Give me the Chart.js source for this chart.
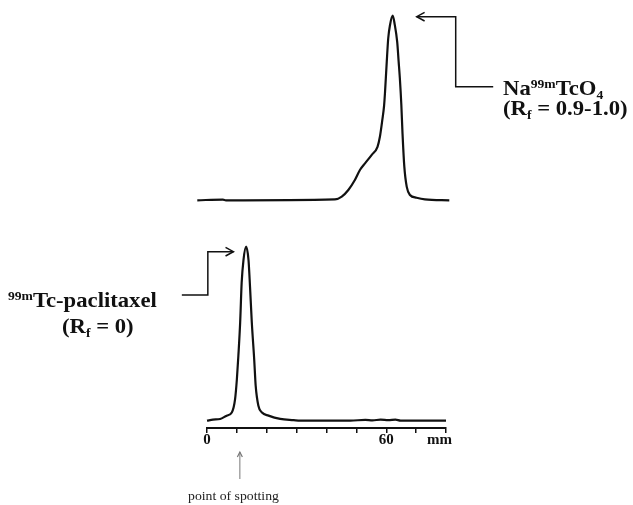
<!DOCTYPE html>
<html>
<head>
<meta charset="utf-8">
<script src="https://cdn.jsdelivr.net/npm/chart.js@4.4.1/dist/chart.umd.min.js"></script>
<style>
  html, body { margin: 0; padding: 0; background: #fff; }
  #wrap { position: relative; width: 633px; height: 505px; overflow: hidden; }
  canvas { position: absolute; left: 0; top: 0; }
  .lbl { position: absolute; font-family: "Liberation Serif", "Times New Roman", serif; font-weight: bold;
         color: #111; white-space: nowrap; transform-origin: 0 0; }
  .big { font-size: 21px; line-height: 21px; transform: scaleX(1.08); }
  .sup { font-size: 0.6em; position: relative; top: -0.55em; }
  .sub { font-size: 0.6em; position: relative; top: 0.3em; }
  .small { font-weight: normal; font-size: 12.5px; line-height: 12.5px; transform: scaleX(1.1); color: #222; }
  .unit { font-size: 15px; line-height: 15px; }
</style>
</head>
<body>
<div id="wrap">
  <canvas id="topScan" width="633" height="505"></canvas>
  <canvas id="botScan" width="633" height="505"></canvas>

  <div class="lbl big" style="left:503px; top:78px;">Na<span class="sup">99m</span>TcO<span class="sub">4</span></div>
  <div class="lbl big" style="left:503px; top:98px;">(R<span class="sub">f</span> = 0.9-1.0)</div>
  <div class="lbl big" style="left:8px; top:290px;"><span class="sup">99m</span>Tc-paclitaxel</div>
  <div class="lbl big" style="left:62px; top:316px;">(R<span class="sub">f</span> = 0)</div>
  <div class="lbl unit" style="left:427px; top:432px;">mm</div>
  <div class="lbl small" style="left:188px; top:490px;">point of spotting</div>
</div>

<script>
// --- upper scan: Na99mTcO4 (position in mm, counts scaled so peak = 100)
const topMm = [0, 8.6, 9.6, 46.2, 48.5, 50.7, 52.9, 54.6, 56.3, 58.5, 60.5, 61.3, 62.1, 62.7, 63.0,
               63.6, 64.1, 64.7, 65.6, 66.3, 67.1, 67.6, 68.0, 68.5, 68.9, 69.5, 70.3, 71.4, 73.6, 76.4, 84.6];
const topCounts = [0, 0.4, 0, 0.5, 2.0, 5.6, 11.0, 16.4, 20.0, 24.5, 29.0, 34.4, 43.4, 51.2, 58,
                   75, 87.8, 95, 100, 95, 85.9, 75, 66.1, 51.6, 36, 18.2, 7.4, 2.9, 1.4, 0.5, 0];

// --- lower scan: 99mTc-paclitaxel
const botMm = [0, 2.0, 4.4, 6.6, 8.3, 9.4, 10.0, 10.5, 11.1, 11.6, 12.2, 13.1, 13.9, 14.4, 15.0,
               15.8, 16.3, 17.2, 18.4, 20.6, 24.5, 29.0, 31.2, 48, 53.0, 55.4, 58.1, 60.7, 63.1, 64.8, 80];
const botCounts = [0, 0.6, 1.0, 2.9, 4.7, 12.4, 23.8, 37.3, 56.4, 79.2, 92.2, 100, 92.2, 77, 56.4,
                   35.2, 20, 8.6, 4.7, 2.9, 1.0, 0.3, 0, 0, 0.5, 0.2, 0.6, 0.3, 0.6, 0, 0];

// axis
const axisMax = 80;
const axisStep = 10;
const labelledTicks = [0, 60];
const spotMm = 11;

const INK = '#111';

function pts(xs, ys) {
  return xs.map((x, i) => ({ x, y: ys[i] }));
}

function arrowHead(ctx, x, y, dir) {
  // open chevron, dir = angle the arrow points to
  const len = 9, spread = 0.5;
  ctx.beginPath();
  ctx.moveTo(x - len * Math.cos(dir - spread), y - len * Math.sin(dir - spread));
  ctx.lineTo(x, y);
  ctx.lineTo(x - len * Math.cos(dir + spread), y - len * Math.sin(dir + spread));
  ctx.stroke();
}

// callout lines hang off the peak of each scan
const callouts = {
  id: 'callouts',
  afterDraw(c, args, opts) {
    const ctx = c.ctx;
    const xs = c.scales.x, ys = c.scales.y;
    const d = c.data.datasets[0].data;
    const peak = d.reduce((a, b) => (b.y > a.y ? b : a));
    const px = xs.getPixelForValue(peak.x);
    const py = ys.getPixelForValue(peak.y);
    ctx.save();
    ctx.strokeStyle = INK;
    ctx.lineWidth = 1.5;
    if (opts.side === 'right') {
      const tipX = px + 24, tipY = py + 1;
      ctx.beginPath();
      ctx.moveTo(tipX, tipY);
      ctx.lineTo(px + 63, tipY);
      ctx.lineTo(px + 63, py + 71);
      ctx.lineTo(px + 100.5, py + 71);
      ctx.stroke();
      arrowHead(ctx, tipX, tipY, Math.PI);
    } else {
      const tipX = px - 12.7, tipY = py + 5;
      ctx.beginPath();
      ctx.moveTo(px - 64.3, py + 48.3);
      ctx.lineTo(px - 38.3, py + 48.3);
      ctx.lineTo(px - 38.3, tipY);
      ctx.lineTo(tipX, tipY);
      ctx.stroke();
      arrowHead(ctx, tipX, tipY, 0);

      // point of spotting marker
      const sx = xs.getPixelForValue(spotMm);
      const base = c.chartArea.bottom;
      ctx.strokeStyle = '#777';
      ctx.lineWidth = 1;
      ctx.beginPath();
      ctx.moveTo(sx, base + 51);
      ctx.lineTo(sx, base + 24);
      ctx.stroke();
      ctx.lineWidth = 1.2;
      const hl = 5;
      ctx.beginPath();
      ctx.moveTo(sx - 2.5, base + 24 + hl);
      ctx.lineTo(sx, base + 24);
      ctx.lineTo(sx + 2.5, base + 24 + hl);
      ctx.stroke();
    }
    ctx.restore();
  }
};

function lineSet(data) {
  return {
    data,
    borderColor: INK,
    borderWidth: 2.2,
    pointRadius: 0,
    fill: false,
    tension: 0.3,
    cubicInterpolationMode: 'monotone',
    clip: false
  };
}

new Chart(document.getElementById('topScan'), {
  type: 'line',
  data: { datasets: [lineSet(pts(topMm, topCounts))] },
  options: {
    responsive: false,
    animation: false,
    events: [],
    layout: { padding: { left: 197.3, right: 183.7, top: 15.7, bottom: 304.7 } },
    plugins: { legend: { display: false }, tooltip: { enabled: false }, callouts: { side: 'right' } },
    scales: {
      x: { type: 'linear', min: 0, max: 84.6, display: false },
      y: { min: 0, max: 100, display: false }
    }
  },
  plugins: [callouts]
});

new Chart(document.getElementById('botScan'), {
  type: 'line',
  data: { datasets: [lineSet(pts(botMm, botCounts))] },
  options: {
    responsive: false,
    animation: false,
    events: [],
    layout: { padding: { left: 207, right: 187, top: 246.7, bottom: 57 } },
    plugins: { legend: { display: false }, tooltip: { enabled: false }, callouts: { side: 'left' } },
    scales: {
      x: {
        type: 'linear', min: 0, max: axisMax,
        border: { display: true, color: INK, width: 2 },
        grid: { drawOnChartArea: false, drawTicks: true, tickLength: 5, color: INK, lineWidth: 1.5 },
        ticks: {
          stepSize: axisStep,
          padding: 0,
          maxRotation: 0,
          autoSkip: false,
          color: INK,
          font: { family: '"Liberation Serif", "Times New Roman", serif', size: 15, weight: 'bold', lineHeight: 1 },
          callback: v => (labelledTicks.includes(v) ? String(v) : '')
        }
      },
      y: { min: -4.2, max: 100, display: false }
    }
  },
  plugins: [callouts]
});
</script>
</body>
</html>
